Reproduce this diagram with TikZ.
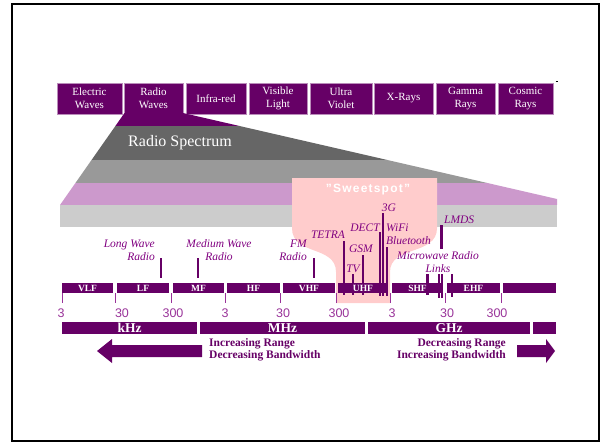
\documentclass[tikz,border=0pt]{standalone}
\usepackage{fontspec}
\setmainfont{Liberation Serif}
\setsansfont{Liberation Sans}
\definecolor{plum}{HTML}{660066}
\definecolor{orchid}{HTML}{993399}
\definecolor{lilac}{HTML}{CC99CC}
\definecolor{blush}{HTML}{FFCCCC}
\definecolor{tag}{HTML}{800080}
\begin{document}
\begin{tikzpicture}[x=1pt, y=-1pt]
      \tikzset{wave/.style={fill=plum, draw=plum!45, line width=0.7pt, text=white, align=center, inner sep=0pt, font=\fontsize{11}{12.6}\selectfont},
        band/.style={fill=plum, text=white, inner sep=0pt, font=\fontsize{9.5}{9.5}\selectfont\bfseries},
        unit/.style={fill=plum, text=white, inner sep=0pt, font=\fontsize{13.5}{13.5}\selectfont\bfseries},
        service/.style={text=tag, inner sep=0pt, font=\fontsize{11.5}{13}\selectfont\itshape},
        freq/.style={text=orchid, inner sep=0pt, font=\sffamily\fontsize{12.5}{12.5}\selectfont},
        hint/.style={text=plum, inner sep=0pt, font=\fontsize{11.5}{12.4}\selectfont\bfseries},
        marker/.style={plum, line width=2.3pt},
        tick/.style={orchid, line width=0.8pt}}
      \useasboundingbox (0,0) rectangle (608,444);
      \draw[line width=1.8pt] (12,4) rectangle (599,441);
      \draw[line width=0.6pt] (555.5,81.5) -- (558,81.5);
      \foreach \l/\r/\t/\n in {57/122/{Electric\\Waves}/electric, 124/183/{Radio\\Waves}/radio, 186/246/Infra-red/infrared, 249/307/{Visible\\Light}/visible, 310/372/{Ultra\\Violet}/ultra, 374/433/X-Rays/xrays, 436/495/{Gamma\\Rays}/gamma, 498/553/{Cosmic\\Rays}/cosmic}
        \node[wave, minimum width={(\r-\l)*1pt}, minimum height=31pt] (\n) at ({(\l+\r)/2},98.5) {\t};
      \begin{scope}
        \clip (124.5,113) -- (183,113) -- (557,199) -- (557,205) -- (60,205) -- cycle;
        \fill[plum] (50,110) rectangle (560,126);
        \fill[black!60] (50,126) rectangle (560,160);
        \fill[black!40] (50,160) rectangle (560,183);
        \fill[lilac] (50,183) rectangle (560,205);
      \end{scope}
      \node[text=white, inner sep=0pt, font=\fontsize{16}{16}\selectfont] (spectrum) at (180,143) {Radio Spectrum};
      \fill[black!20] (60,205) rectangle (557,227);
      \fill[blush] (292,178) -- (437,178) -- (437,228) .. controls (437,256) and (390,245) .. (390,272) -- (390,303) -- (336,303) -- (336,272) .. controls (336,245) and (292,256) .. (292,228) -- cycle;
      \node[text=white, inner sep=0pt, font=\sffamily\fontsize{12}{12}\selectfont\bfseries\addfontfeature{LetterSpace=10}] (sweetspot) at (368,190) {"Sweetspot"};
      \node[service, align=right, anchor=east] (longwave) at (155,250.5) {Long Wave\\Radio};
      \node[service, align=center] (mediumwave) at (219,250.5) {Medium Wave\\Radio};
      \node[service, align=right, anchor=east] (fm) at (307,250.5) {FM\\Radio};
      \node[service] (tetra) at (328,235) {TETRA};
      \node[service] (gsm) at (361,248.3) {GSM};
      \node[service] (tv) at (353,269.3) {TV};
      \node[service] (dect) at (365,227.3) {DECT};
      \node[service] (threeg) at (389,207.7) {3G};
      \node[service, anchor=west] (wifi) at (386,227.3) {WiFi};
      \node[service, anchor=west] (bluetooth) at (386,240.7) {Bluetooth};
      \node[service, anchor=west] (lmds) at (444,220) {LMDS};
      \node[service, align=center] (microwave) at (438,262) {Microwave Radio\\Links};
      \foreach \x/\a/\b in {161/258/278, 198/258/278, 314/258/278, 344/241/295, 353/274/295, 362.7/255/295, 380/232/296, 383/213/296, 386.7/247/296, 441.5/225/249, 427.5/274/295, 439/274/298, 442/274/298, 452/274/297}
        \draw[marker] (\x,\a) -- (\x,\b);
      \foreach \l/\r/\t/\n in {62/113/VLF/vlf, 117/169/LF/lf, 173/224/MF/mf, 227/280/HF/hf, 283/335/VHF/vhf, 338/388/UHF/uhf, 392/443/SHF/shf, 447/500/EHF/ehf, 503/556/{}/beyondband}
        \node[band, minimum width={(\r-\l)*1pt}, minimum height=10pt] (\n) at ({(\l+\r)/2},288.3) {\t};
      \foreach \x/\f/\p in {62/3/61, 115/30/122, 171/300/173, 225/3/225, 280/30/283, 336/300/339, 390/3/392, 445/30/447, 501/300/497}{
        \draw[tick] (\x,293) -- (\x,303);
        \node[freq] (f\x) at (\p,313) {\f};
      }
      \foreach \l/\r/\t/\n in {62/197/kHz/khz, 200/365/MHz/mhz, 368/530/GHz/ghz, 533/556/{}/beyondunit}
        \node[unit, minimum width={(\r-\l)*1pt}, minimum height=12.3pt] (\n) at ({(\l+\r)/2},328) {\t};
      \fill[plum] (202,345) -- (112,345) -- (112,339) -- (97,351) -- (112,363) -- (112,357) -- (202,357) -- cycle;
      \fill[plum] (517,345) -- (546,345) -- (546,339) -- (555,351) -- (546,363) -- (546,357) -- (517,357) -- cycle;
      \node[hint, align=left, anchor=west] (nearrange) at (209,349.5) {Increasing Range\\Decreasing Bandwidth};
      \node[hint, align=right, anchor=east] (farrange) at (506,349.5) {Decreasing Range\\Increasing Bandwidth};
    \end{tikzpicture}
\end{document}
